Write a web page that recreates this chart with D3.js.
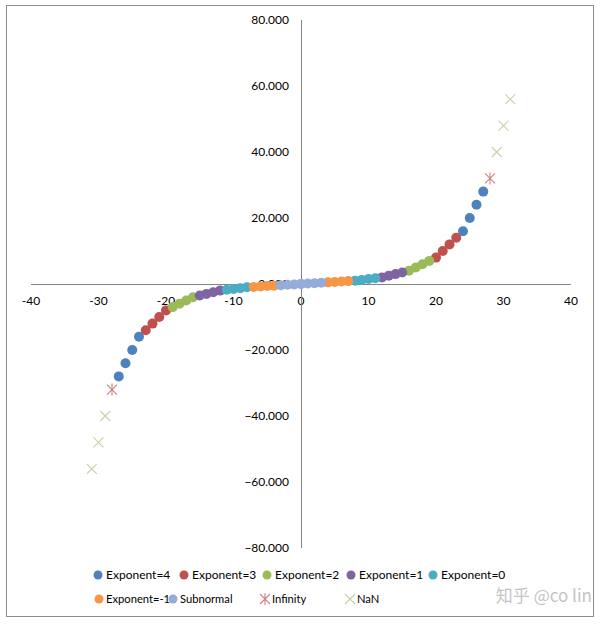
<!doctype html>
<html>
<head>
  <meta charset="utf-8">
  <script src="https://d3js.org/d3.v7.min.js"></script>
  <style>
    body { margin: 0; background: #fff; }
    text { font-family: Lato, "Liberation Sans", sans-serif; }
  </style>
</head>
<body>
<div id="container"></div>

<script>
  // values of every code of a 6 bit minifloat (1 sign, 3 exponent, 2 mantissa), x = code, y = value
  var exponent4  = [[24,16],[25,20],[26,24],[27,28],[-24,-16],[-25,-20],[-26,-24],[-27,-28]];
  var exponent3  = [[20,8],[21,10],[22,12],[23,14],[-20,-8],[-21,-10],[-22,-12],[-23,-14]];
  var exponent2  = [[16,4],[17,5],[18,6],[19,7],[-16,-4],[-17,-5],[-18,-6],[-19,-7]];
  var exponent1  = [[12,2],[13,2.5],[14,3],[15,3.5],[-12,-2],[-13,-2.5],[-14,-3],[-15,-3.5]];
  var exponent0  = [[8,1],[9,1.25],[10,1.5],[11,1.75],[-8,-1],[-9,-1.25],[-10,-1.5],[-11,-1.75]];
  var exponentM1 = [[4,0.5],[5,0.625],[6,0.75],[7,0.875],[-4,-0.5],[-5,-0.625],[-6,-0.75],[-7,-0.875]];
  var subnormal  = [[0,0],[1,0.125],[2,0.25],[3,0.375],[0,0],[-1,-0.125],[-2,-0.25],[-3,-0.375]];
  var infinity   = [[28,32],[-28,-32]];
  var nan        = [[29,40],[30,48],[31,56],[-29,-40],[-30,-48],[-31,-56]];

  var seriesNames = ["Exponent=4","Exponent=3","Exponent=2","Exponent=1","Exponent=0",
                     "Exponent=-1","Subnormal","Infinity","NaN"];
  var xTicks = [-40,-30,-20,-10,0,10,20,30,40];
  var yTicks = [-80,-60,-40,-20,0,20,40,60,80];

  var series = [
    {name: seriesNames[0], data: exponent4,  color: "#4f81bd", shape: "circle"},
    {name: seriesNames[1], data: exponent3,  color: "#c0504d", shape: "circle"},
    {name: seriesNames[2], data: exponent2,  color: "#9bbb59", shape: "circle"},
    {name: seriesNames[3], data: exponent1,  color: "#8064a2", shape: "circle"},
    {name: seriesNames[4], data: exponent0,  color: "#4bacc6", shape: "circle"},
    {name: seriesNames[5], data: exponentM1, color: "#f79646", shape: "circle"},
    {name: seriesNames[6], data: subnormal,  color: "#95abd8", shape: "circle"},
    {name: seriesNames[7], data: infinity,   color: "#d2827f", shape: "star"},
    {name: seriesNames[8], data: nan,        color: "#c4d3a4", shape: "cross"}
  ];

  // legend slots (row, x of marker)
  var legendPos = [[0,98],[0,184],[0,267],[0,351],[0,433],[1,99],[1,173],[1,265],[1,350]];

  var W = 607, H = 627;
  var svg = d3.select("#container").append("svg")
    .attr("width", W).attr("height", H);

  svg.append("rect").attr("x", 6.5).attr("y", 5.5).attr("width", 587).attr("height", 611)
    .attr("fill", "#fff").attr("stroke", "#8c8c8c");

  var x = d3.scaleLinear().domain([-40, 40]).range([31, 571]);
  var y = d3.scaleLinear().domain([-80, 80]).range([548, 20]);

  // tick labels
  svg.selectAll(".xlab").data(xTicks).enter().append("text")
    .attr("x", function(d) { return x(d); }).attr("y", y(0) + 21)
    .attr("text-anchor", "middle").attr("font-size", 12).attr("fill", "#000")
    .text(function(d) { return d; });

  svg.selectAll(".ylab").data(yTicks).enter().append("text")
    .attr("x", x(0) - 12).attr("y", function(d) { return y(d) + 4; })
    .attr("text-anchor", "end").attr("font-size", 12).attr("fill", "#000")
    .text(d3.format(".3f"));

  // axes
  svg.append("path").attr("d", "M" + x(-40) + "," + (y(0) + 0.5) + "H" + x(40))
    .attr("stroke", "#868686").attr("fill", "none");
  svg.append("path").attr("d", "M" + (x(0) + 0.5) + "," + y(80) + "V" + y(-80))
    .attr("stroke", "#868686").attr("fill", "none");

  function marker(g, shape, color) {
    if (shape === "circle") {
      g.append("circle").attr("r", 5).attr("fill", color);
    } else {
      var s = 5;
      g.append("path")
        .attr("d", "M" + (-s) + "," + (-s) + "L" + s + "," + s + "M" + (-s) + "," + s + "L" + s + "," + (-s) +
          (shape === "star" ? "M0," + (-s - 1) + "V" + (s + 1) : ""))
        .attr("stroke", color).attr("stroke-width", 1.1).attr("fill", "none");
    }
  }

  series.forEach(function(s) {
    svg.append("g").selectAll("g").data(s.data).enter().append("g")
      .attr("transform", function(d) { return "translate(" + x(d[0]) + "," + y(d[1]) + ")"; })
      .each(function() { marker(d3.select(this), s.shape, s.color); });
  });

  // legend
  series.forEach(function(s, i) {
    var p = legendPos[i];
    var g = svg.append("g").attr("transform", "translate(" + p[1] + "," + (575 + p[0] * 24) + ")");
    marker(g, s.shape, s.color);
    g.select("circle").attr("r", 4.5);
    g.append("text").attr("x", p[0] ? 7 : 8).attr("y", 4)
      .attr("font-size", p[0] ? 11.2 : 12).attr("fill", "#000").text(s.name);
  });

  svg.append("text").attr("x", 592).attr("y", 602).attr("text-anchor", "end")
    .attr("font-size", 17).attr("fill", "#c4c4c4")
    .style("font-family", "'Noto Sans CJK SC', sans-serif")
    .text("知乎 @co lin");
</script>
</body>
</html>
